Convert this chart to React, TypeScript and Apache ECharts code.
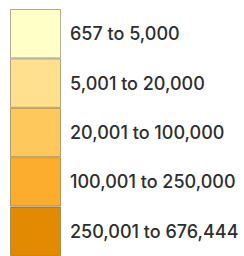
import React, { useEffect, useRef } from "react";
import * as echarts from "echarts";

const classLabels = [
  "657 to 5,000",
  "5,001 to 20,000",
  "20,001 to 100,000",
  "100,001 to 250,000",
  "250,001 to 676,444",
];
const classColors = ["#ffffc8", "#fee08f", "#fec85c", "#fdad2e", "#e38a03"];
const classSpan = [1, 1, 1, 1, 1];

export default function App() {
  const ref = useRef<HTMLDivElement>(null);
  useEffect(() => {
    if (!ref.current) return;
    const chart = echarts.init(ref.current, undefined, { renderer: "svg" });
    chart.setOption({
      animation: false,
      grid: { left: 10, top: 9, width: 51, height: 250 },
      xAxis: { type: "category", data: ["legend"], show: false },
      yAxis: { type: "value", min: 0, max: 5, inverse: true, show: false },
      series: classLabels.map((lab, i) => ({
        type: "bar",
        stack: "s",
        barWidth: "100%",
        data: [classSpan[i]],
        itemStyle: {
          color: classColors[i],
          borderColor: "rgba(90,70,30,0.45)",
          borderWidth: 1,
        },
        label: {
          show: true,
          position: "right",
          distance: 9,
          formatter: lab,
          color: "#2e2e2e",
          fontSize: 18,
          fontWeight: 500,
          fontFamily: "Inter",
        },
      })),
    });
    return () => chart.dispose();
  }, []);
  return (
    <div
      ref={ref}
      style={{ position: "absolute", left: 0, top: 0, width: 244, height: 256 }}
    />
  );
}
